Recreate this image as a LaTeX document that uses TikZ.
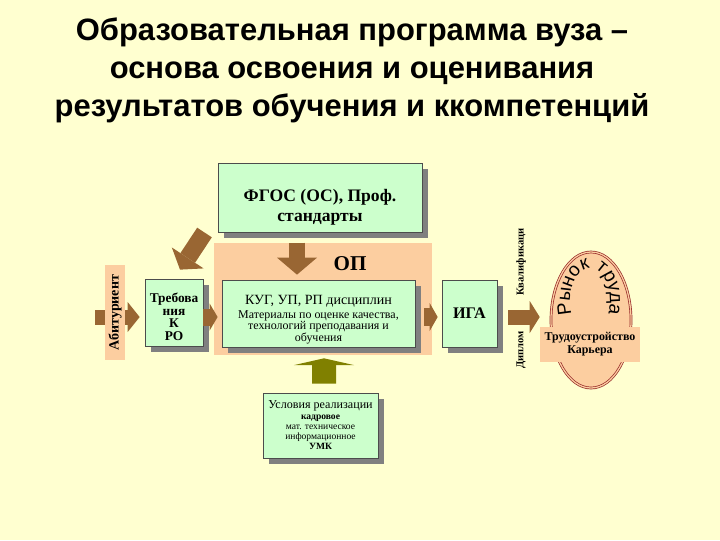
\documentclass[tikz,border=0pt]{standalone}
\usepackage{fontspec}
\setmainfont{Liberation Serif}
\newfontfamily\headfont{Liberation Sans}
\usetikzlibrary{arrows.meta,calc,positioning,shadows,shapes.geometric,decorations.text}

\definecolor{bgyellow}{RGB}{255,255,208}
\definecolor{boxgreen}{RGB}{204,255,204}
\definecolor{peach}{RGB}{252,206,160}
\definecolor{arrowbrown}{RGB}{153,102,51}
\definecolor{oliveup}{RGB}{128,128,0}
\definecolor{marketred}{RGB}{150,40,40}

\pgfdeclarelayer{back}
\pgfsetlayers{back,main}

\newcommand{\lowtext}[2]{\raisebox{-#1}[\height][\depth]{\begin{tabular}{@{}c@{}}#2\end{tabular}}}

\tikzset{
  greenbox/.style={rectangle,draw=black!70,fill=boxgreen,line width=0.5pt,align=center,inner sep=1pt,
    drop shadow={shadow xshift=0.14cm,shadow yshift=-0.14cm,fill=black!50,opacity=1}},
  peachbox/.style={rectangle,fill=peach,inner sep=0pt,align=center},
  fatarrow/.style n args={3}{line width=#1,line cap=butt,
    -{Triangle[length=#2,width=#3,line width=0pt]}},
  sidelabel/.style={rotate=90,font=\bfseries\fontsize{7.5}{9}\selectfont}
}

\begin{document}
\begin{tikzpicture}[x=0.025cm,y=-0.025cm]
\begin{pgfonlayer}{back}
  \fill[bgyellow] (0,0) rectangle (720,540);
\end{pgfonlayer}
\useasboundingbox (0,0) rectangle (720,540);

\node[font=\headfont\bfseries\fontsize{22}{27}\selectfont,align=center] (title) at (352,70)
  {Образовательная программа вуза –\\основа освоения и оценивания\\результатов обучения и ккомпетенций};

% boxes
\node[greenbox,minimum width=5.1cm,minimum height=1.725cm,font=\bfseries\fontsize{12.5}{14}\selectfont] (fgos) at (320,197.5)
  {\lowtext{7pt}{ФГОС (ОС), Проф.\\стандарты}};
\node[peachbox,minimum width=5.45cm,minimum height=2.8cm] (op) at (323,299) {};
\node[font=\bfseries\fontsize{15}{18}\selectfont] (oplabel) at (350,264) {ОП};
\node[greenbox,minimum width=4.825cm,minimum height=1.675cm,font=\fontsize{8.5}{8.3}\selectfont] (kug) at (318.5,313.5)
  {\lowtext{5pt}{{\fontsize{10}{12}\selectfont КУГ, УП, РП дисциплин}\\[1pt]Материалы по оценке качества,\\технологий преподавания и\\обучения}};
\node[greenbox,minimum width=1.45cm,minimum height=1.675cm,font=\bfseries\fontsize{9.5}{8.7}\selectfont] (treb) at (174,312.5)
  {\lowtext{4.3pt}{Требова\\ния\\К\\РО}};
\node[peachbox,rotate=90,minimum width=2.375cm,minimum height=0.5cm,font=\bfseries\fontsize{10}{12}\selectfont] (abit) at (115,312.5) {Абитуриент};
\node[greenbox,minimum width=1.375cm,minimum height=1.675cm,font=\bfseries\fontsize{11.5}{14}\selectfont] (iga) at (469.5,313.5) {ИГА};
\node[ellipse,draw=marketred,double=peach,double distance=0.9pt,line width=0.5pt,fill=peach,minimum width=2cm,minimum height=3.4cm] (market) at (591,320) {};
\node[peachbox,minimum width=2.5cm,minimum height=0.875cm,font=\bfseries\fontsize{8.5}{9.3}\selectfont] (trud) at (590,344.5) {Трудоустройство\\Карьера};
\node[greenbox,minimum width=2.875cm,minimum height=1.625cm,font=\fontsize{6.8}{7.3}\selectfont] (uslov) at (320.5,425.5)
  {{\fontsize{8.6}{10}\selectfont Условия реализации}\\{\bfseries кадровое}\\мат. техническое\\информационное\\{\bfseries УМК}};
\node[sidelabel] (qual) at (521,262) {Квалификаци};
\node[sidelabel] (diploma) at (521,350) {Диплом};

% arc text
\path[decorate,decoration={text along path,text align=center,
    text={|\headfont\fontsize{13.5}{13.5}\selectfont|Рынок труда}}]
  (590,301) ++(140:20 and 33) arc[start angle=140,end angle=400,x radius=20,y radius=33];

% arrows
\coordinate (row) at (0,317);
\coordinate (abitin) at (95,317);
\coordinate (gosout) at (204.5,232.5);
\begin{pgfonlayer}{back}
  \draw[arrowbrown,fatarrow={0.375cm}{0.3cm}{0.75cm}] (abitin) -- ($(treb.west |- row)+(-5,0)$);
\end{pgfonlayer}
\draw[arrowbrown,fatarrow={0.425cm}{0.2cm}{0.675cm}] (treb.east |- row) -- ($(kug.west |- row)+(-4,0)$);
\draw[arrowbrown,fatarrow={0.45cm}{0.2cm}{0.7cm}] ($(kug.east |- row)+(9,0)$) -- ($(iga.west |- row)+(-4,0)$);
\draw[arrowbrown,fatarrow={0.375cm}{0.25cm}{0.8cm}] ($(iga.east |- row)+(11,0)$) -- (trud.west |- row);
\draw[arrowbrown,fatarrow={0.4cm}{0.425cm}{1cm}] ($(op.north)+(-26,0)$) -- ($(kug.north)+(-21.5,-5)$);
\draw[arrowbrown,fatarrow={0.4375cm}{0.35cm}{0.95cm}] (gosout) -- ($(treb.north)+(6,-9)$);
\draw[oliveup,fatarrow={0.6cm}{0.17cm}{1.5cm}] ($(uslov.north)+(3.5,-9)$) -- ($(op.south)+(1,3)$);
\end{tikzpicture}
\end{document}
